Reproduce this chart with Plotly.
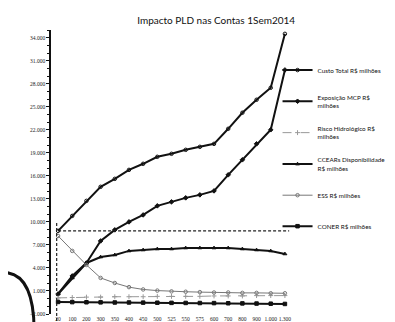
import plotly.graph_objects as go

# PLD (R$/MWh)
categorias = ["20", "100", "200", "300", "350", "400", "450", "500", "525",
              "550", "575", "600", "700", "800", "900", "1.000", "1.300"]

custo_total = [8830, 10780, 12740, 14570, 15610, 16780, 17570, 18480, 18870,
               19390, 19780, 20170, 22130, 24220, 25910, 27480, 34500]
exposicao_mcp = [610, 2960, 4650, 7520, 8960, 10000, 10910, 12090, 12610,
                 13130, 13520, 14040, 16130, 18090, 20170, 22000, 29800]
risco_hidrologico = [100, 150, 200, 200, 250, 250, 250, 300, 300,
                     300, 300, 350, 350, 350, 400, 400, 400]
ccears_disp = [610, 2700, 4650, 5430, 5700, 6220, 6350, 6480, 6480,
               6610, 6610, 6610, 6610, 6480, 6350, 6220, 5830]
ess = [8170, 6220, 4390, 2700, 2040, 1500, 1200, 1050, 950,
       900, 850, 800, 800, 750, 750, 700, 700]
coner = [-430, -450, -470, -480, -500, -500, -520, -530, -550,
         -560, -570, -580, -600, -620, -640, -660, -690]

y_min, y_max = -2000, 35000

series = [
    ("Custo Total R$ milhões", custo_total, '#111', 'solid', 'circle-open', 2),
    ("Exposição MCP R$<br>milhões", exposicao_mcp, '#111', 'solid', 'diamond', 2),
    ("Risco Hidrológico R$<br>milhões", risco_hidrologico, '#999', 'dash', 'cross-thin', 1),
    ("CCEARs Disponibilidade<br>R$ milhões", ccears_disp, '#111', 'solid', 'triangle-up', 2),
    ("ESS R$ milhões", ess, '#777', 'solid', 'circle-open', 1),
    ("CONER R$ milhões", coner, '#111', 'solid', 'square', 2),
]

fig = go.Figure()

for i, (nome, valores, cor, dash, simbolo, largura) in enumerate(series):
    fig.add_trace(go.Scatter(
        x=categorias,
        y=valores,
        name=nome,
        mode='lines+markers',
        line=dict(color=cor, width=largura, dash=dash),
        marker=dict(symbol=simbolo, size=3.5, color=cor,
                    line=dict(color=cor, width=1)),
        legendgroup=f"g{i}",
    ))

# linhas de referência (tracejadas) no ponto atual
fig.add_shape(type='line', xref='x', yref='y',
              x0=0, x1=len(categorias) - 0.7,
              y0=custo_total[0], y1=custo_total[0],
              line=dict(color='#222', width=1.2, dash='3px,2px'))
fig.add_shape(type='line', xref='x', yref='paper',
              x0=-0.1, x1=-0.1,
              y0=-0.06, y1=(custo_total[0] + 1300 - y_min) / (y_max - y_min),
              line=dict(color='#222', width=1.2, dash='3px,2px'))

# marca do papel digitalizado
fig.add_shape(type='path', xref='paper', yref='paper',
              path="M -0.18,0.145 Q -0.07,0.13 -0.07,-0.06",
              line=dict(color='#111', width=3))

fig.update_layout(
    width=395,
    height=322,
    title=dict(
        text="Impacto PLD nas Contas 1Sem2014",
        font=dict(size=10, color='#111', family='Lato'),
        x=0.527, xanchor='center',
        y=0.96, yanchor='middle'
    ),
    separators=',.',
    xaxis=dict(
        type='category',
        range=[-0.5, len(categorias) - 0.5],
        automargin=False,
        showgrid=False,
        showline=False,
        zeroline=False,
        ticks='',
        tickangle=0,
        tickfont=dict(size=5.5, color='#222', family='Liberation Sans Narrow'),
    ),
    yaxis=dict(
        range=[y_min, y_max],
        automargin=False,
        tick0=-2000,
        dtick=3000,
        tickformat=',d',
        showgrid=False,
        zeroline=False,
        showline=True,
        linecolor='#111',
        linewidth=1.5,
        ticks='outside',
        ticklen=3,
        tickcolor='#111',
        minor=dict(ticks='outside', ticklen=2, dtick=1000, tickcolor='#111'),
        tickfont=dict(size=5.5, color='#222', family='Liberation Sans Narrow'),
    ),
    legend=dict(
        x=0.94, xanchor='left',
        y=0.91, yanchor='top',
        font=dict(size=6.3, color='#111', family='Lato'),
        tracegroupgap=12,
        bgcolor='rgba(0,0,0,0)',
    ),
    paper_bgcolor='white',
    plot_bgcolor='white',
    margin=dict(l=43, r=111, t=22, b=16),
)

fig.write_html("out.html")
